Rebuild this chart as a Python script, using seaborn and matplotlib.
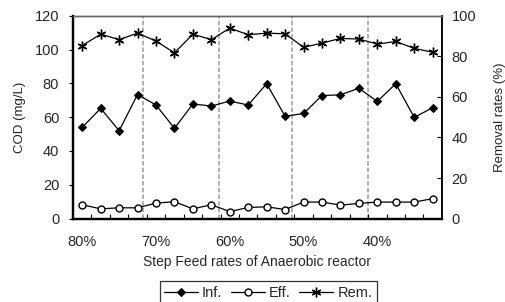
import matplotlib
matplotlib.use("Agg")
import matplotlib.pyplot as plt
import seaborn as sns
import numpy as np
import pandas as pd

# Data
inf = [54.0, 65.2, 52.0, 73.4, 67.2, 53.4, 67.8, 66.6, 69.5, 67.2,
       79.8, 60.5, 62.2, 72.8, 73.2, 77.1, 69.3, 79.8, 59.9, 65.6]
eff = [8.2, 5.8, 6.4, 6.4, 9.2, 10.0, 5.8, 8.2, 4.2, 6.6,
       7.0, 5.4, 9.8, 9.8, 8.0, 9.0, 9.8, 9.8, 9.8, 11.8]
rem = [85.3, 90.9, 88.2, 91.4, 87.5, 81.7, 90.9, 88.2, 93.9, 90.6,
       91.4, 91.1, 84.4, 86.5, 88.8, 88.5, 86.0, 87.3, 83.9, 82.0]
rate_labels = ["80%", "70%", "60%", "50%", "40%"]
rate_positions = [0, 4, 8, 12, 16]
stage_breaks = [3.3, 7.4, 11.4, 15.5]

df = pd.DataFrame({"run": np.arange(len(inf)), "Inf.": inf, "Eff.": eff, "Rem.": rem})

sns.set_style("white")
plt.rcParams["font.family"] = ["Liberation Sans", "DejaVu Sans"]
plt.rcParams["font.size"] = 10

fig = plt.figure(figsize=(5.05, 3.02), dpi=100)
ax = fig.add_axes([0.1446, 0.276, 0.7304, 0.672])
ax2 = ax.twinx()

line_kw = dict(color="black", linewidth=0.9, markeredgecolor="black")
sns.lineplot(data=df, x="run", y="Inf.", ax=ax, marker="D", markersize=4.5,
             markerfacecolor="black", label="Inf.", **line_kw)
sns.lineplot(data=df, x="run", y="Eff.", ax=ax, marker="o", markersize=5,
             markerfacecolor="white", markeredgewidth=1.0, label="Eff.", **line_kw)
sns.lineplot(data=df, x="run", y="Rem.", ax=ax2, marker=(6, 2, 0), markersize=7,
             markeredgewidth=1.0, label="Rem.", **line_kw)

for xb in stage_breaks:
    ax.axvline(xb, color="#aaaaaa", linestyle="--", linewidth=1.3, dashes=(2.5, 1.2), zorder=0)

ax.set_xlim(-0.5, len(inf) - 0.5)
ax.set_ylim(0, 120)
ax.set_yticks(range(0, 121, 20))
ax2.set_ylim(0, 100)
ax2.set_yticks(range(0, 101, 20))

ax.set_xticks(rate_positions)
ax.set_xticklabels(rate_labels)
ax.set_xticks(np.arange(0.5, len(inf) - 1, 1.0), minor=True)
ax.tick_params(axis="x", which="major", length=0, pad=12, labelsize=10.5)
ax.tick_params(axis="x", which="minor", direction="in", length=3.5, width=0.8,
               color="black", bottom=True)
ax.tick_params(axis="y", direction="out", length=3, width=0.8, color="black",
               pad=7, labelsize=10.5, left=True)
ax2.tick_params(axis="y", direction="in", length=3.5, width=0.8, color="black",
                pad=7, labelsize=10.5, right=True)

ax.set_xlabel("Step Feed rates of Anaerobic reactor", fontsize=10, labelpad=4)
ax.set_ylabel("COD (mg/L)", fontsize=9.5, labelpad=6)
ax2.set_ylabel("Removal rates (%)", fontsize=9.5, labelpad=13)

for a in (ax, ax2):
    a.spines["left"].set_linewidth(1.6)
    a.spines["bottom"].set_linewidth(1.6)
    a.spines["right"].set_linewidth(1.1)
    a.spines["top"].set_linewidth(1.0)
    a.spines["top"].set_color("#666666")
    for s in ("left", "bottom", "right"):
        a.spines[s].set_color("black")

h1, l1 = ax.get_legend_handles_labels()
h2, l2 = ax2.get_legend_handles_labels()
ax.get_legend().remove()
ax2.get_legend().remove()
leg = fig.legend(h1 + h2, l1 + l2, loc="upper center", bbox_to_anchor=(0.531, 0.068),
                 borderaxespad=0, ncol=3, frameon=True, fancybox=False, edgecolor="black",
                 handlelength=2.3, handletextpad=0.3, columnspacing=0.6,
                 borderpad=0.3, fontsize=10.5)
leg.get_frame().set_linewidth(0.9)

fig.savefig("out.png", dpi=100)
